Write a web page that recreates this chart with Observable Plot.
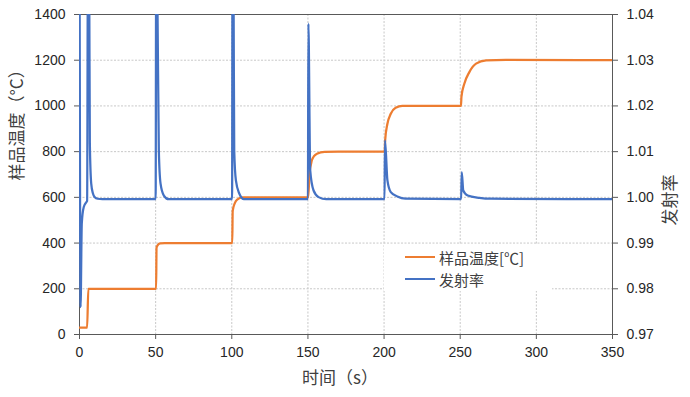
<!DOCTYPE html>
<html>
<head>
<meta charset="utf-8">
<script src="https://cdn.jsdelivr.net/npm/d3@7"></script>
<script src="https://cdn.jsdelivr.net/npm/@observablehq/plot@0.6"></script>
<style>
  html, body { margin: 0; padding: 0; background: #fff; }
  #wrap { position: relative; width: 690px; height: 397px; font-family: Arial, "Liberation Sans", "Noto Sans CJK SC", sans-serif; }
  #legend { position: absolute; left: 384px; top: 245px; width: 168px; height: 46px; background: #fff; }
  .row { position: absolute; left: 21px; height: 20px; display: flex; align-items: center; font-family: "Noto Sans CJK SC", sans-serif; font-size: 15px; color: #404040; }
  .sw { width: 30px; height: 0; border-top: 2.5px solid; margin-right: 4px; }
</style>
</head>
<body>
<div id="wrap"></div>
<script>
// ---- data ----
const timeTicks = [0, 50, 100, 150, 200, 250, 300, 350];
const tempTicks = [0, 200, 400, 600, 800, 1000, 1200, 1400];
const emisTicks = [0.97, 0.98, 0.99, 1.00, 1.01, 1.02, 1.03, 1.04];

// sample temperature (°C)
const tempTime = [0, 5.0, 5.8, 50.3, 50.6, 51.5, 53, 56, 100.3, 100.6, 102, 103.5, 107,
  150.2, 151, 152.6, 154, 155.9, 161, 170, 200.4, 200.7, 202.2, 204.4, 207.6, 212,
  250.5, 250.8, 252.7, 256, 260.4, 267, 280, 350];
const tempValue = [30, 30, 200, 200, 380, 392, 399, 400, 400, 541, 575, 590, 600,
  600, 700, 762, 780, 791, 799, 800, 800, 849, 922, 966, 992, 1000,
  1000, 1040, 1097, 1148, 1185, 1199, 1202, 1200];

// emissivity
const emisTime = [0, 0.7, 1.5, 2.8, 4.6, 5.0, 5.6, 6.4, 6.8, 7.7, 8.8, 9.9, 12, 15,
  50, 50.4, 51.2, 52.1, 53.2, 55.4, 58.5,
  100.2, 100.5, 101.2, 101.6, 102.7, 104.9, 108,
  150, 150.3, 151.5, 153.7, 157, 162,
  200.3, 200.6, 202.2, 204.4, 208.7, 214,
  250.6, 251, 252, 254.9, 262.6, 270, 350];
const emisValue = [1.06, 0.976, 0.9943, 0.9979, 0.9990, 0.9992, 1.06, 1.045, 1.0118, 1.003, 1.0009, 1.0001, 0.9997, 0.9996,
  0.9996, 1.06, 1.042, 1.01025, 1.00305, 1.0004, 0.9996,
  0.9996, 1.06, 1.042, 1.01025, 1.0037, 1.00085, 0.9996,
  0.9996, 1.038, 1.0059, 1.0015, 1.00005, 0.9996,
  0.9996, 1.01245, 1.0037, 1.00115, 1.0002, 0.9997,
  0.9996, 1.0055, 1.0015, 1.0004, 0.9999, 0.9997, 0.9996];

const labelTemp = "样品温度（°C）";
const labelEmis = "发射率";
const labelTime = "时间（s）";
const legendTemp = "样品温度[℃]";
const legendEmis = "发射率";

// ---- build ----
const ORANGE = "#ED7D31", BLUE = "#4472C4";
const toLeft = e => (e - 0.97) * 20000;   // maps emissivity onto temperature axis
const tempData = tempTime.map((t, i) => ({t, v: tempValue[i]}));
const emisData = emisTime.map((t, i) => ({t, v: toLeft(emisValue[i])}));

const font = "Arial, 'Liberation Sans', 'Noto Sans CJK SC', sans-serif";
const cjk = "'Noto Sans CJK SC', sans-serif";
const axisStyle = {tickSize: 5, fontSize: 14, fontFamily: font, fill: "#262626", label: null, stroke: "#595959"};

const chart = Plot.plot({
  width: 690, height: 397,
  marginLeft: 79, marginRight: 78, marginTop: 14, marginBottom: 63,
  style: {fontFamily: font, fontSize: "14px", color: "#262626", background: "#fff"},
  x: {domain: [0, 350]},
  y: {domain: [0, 1400]},
  marks: [
    Plot.gridX(timeTicks, {stroke: "#c8c8c8", strokeOpacity: 1, strokeDasharray: "2,1.5"}),
    Plot.gridY(tempTicks, {stroke: "#c8c8c8", strokeOpacity: 1, strokeDasharray: "2,1.5"}),
    Plot.frame({stroke: "#595959", strokeWidth: 1}),
    Plot.axisX(timeTicks, {...axisStyle, tickPadding: 8, tickFormat: d => String(d)}),
    Plot.axisY(tempTicks, {...axisStyle, tickPadding: 9, tickFormat: d => String(d)}),
    Plot.axisY(emisTicks.map(toLeft), {...axisStyle, anchor: "right", tickPadding: 9,
      tickFormat: v => (0.97 + v / 20000).toFixed(2)}),
    Plot.line(tempData, {x: "t", y: "v", stroke: ORANGE, strokeWidth: 2.25, curve: "monotone-x", clip: true}),
    Plot.line(emisData, {x: "t", y: "v", stroke: BLUE, strokeWidth: 2.25, curve: "monotone-x", clip: true}),
    Plot.text([labelTemp], {frameAnchor: "left", dx: -62, dy: 6, rotate: -90, fontSize: 17, fontFamily: cjk, fill: "#404040"}),
    Plot.text([labelEmis], {frameAnchor: "right", dx: 58, rotate: -90, fontSize: 17, fontFamily: cjk, fill: "#404040"}),
    Plot.text([labelTime], {frameAnchor: "bottom", dx: -6, dy: 49, fontSize: 17, fontFamily: cjk, fill: "#404040"})
  ]
});

const wrap = document.getElementById("wrap");
wrap.appendChild(chart);
const legend = document.createElement("div");
legend.id = "legend";
legend.innerHTML =
  `<div class="row" style="top:2px"><span class="sw" style="border-color:${ORANGE}"></span>${legendTemp}</div>` +
  `<div class="row" style="top:24px"><span class="sw" style="border-color:${BLUE}"></span>${legendEmis}</div>`;
wrap.appendChild(legend);
</script>
</body>
</html>
